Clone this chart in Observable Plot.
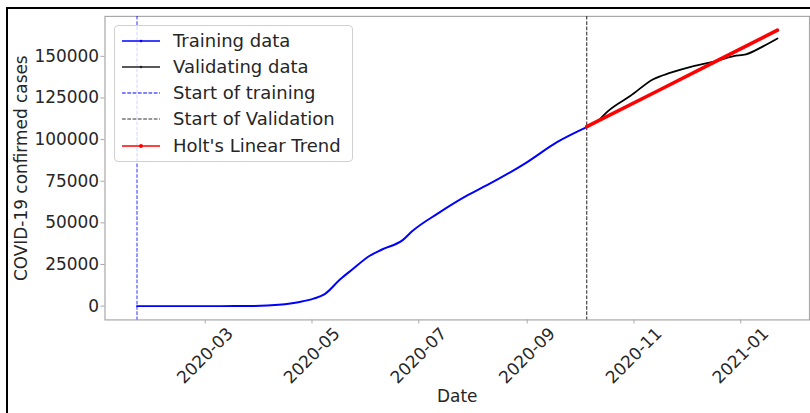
<!DOCTYPE html>
<html>
<head>
<meta charset="utf-8">
<script src="https://cdn.jsdelivr.net/npm/d3@7"></script>
<script src="https://cdn.jsdelivr.net/npm/@observablehq/plot@0.6"></script>
<style>
  html, body { margin: 0; padding: 0; background: #fff; overflow: hidden; }
  body { width: 810px; height: 413px; position: relative; font-family: "DejaVu Sans", sans-serif; }
  #outer { position: absolute; left: 6px; top: 7px; width: 900px; height: 500px; border-left: 2px solid #000; border-top: 2px solid #000; box-sizing: border-box; }
  #chart { position: absolute; left: 0; top: 0; width: 810px; height: 413px; overflow: hidden; }
  #legend { position: absolute; left: 114px; top: 25px; width: 239px; height: 137px; box-sizing: border-box;
            background: rgba(255,255,255,0.8); border: 1px solid #d0d0d0; border-radius: 4px; }
  .row { position: absolute; left: 0; height: 26px; width: 100%; }
  .row svg { position: absolute; left: 6px; top: 0; }
  .row span { position: absolute; left: 58px; top: 1px; font-size: 18px; line-height: 24px; color: #262626; white-space: nowrap; }
</style>
</head>
<body>
<div id="outer"></div>
<div id="chart"></div>
<div id="legend"></div>
<script>
// ---- data ----
const trainDates = ["2020-01-22","2020-02-15","2020-03-10","2020-03-29","2020-04-12","2020-04-24","2020-05-02","2020-05-08","2020-05-17","2020-05-24","2020-06-03","2020-06-10","2020-06-22","2020-06-27","2020-07-12","2020-07-29","2020-08-09","2020-09-01","2020-09-18","2020-10-05"];
const trainValues = [0, 0, 0, 100, 800, 2500, 4500, 7000, 16000, 22000, 30250, 34000, 39800, 44750, 55700, 66650, 72600, 86500, 98450, 107500];

const validDates = ["2020-10-05","2020-10-12","2020-10-17","2020-10-30","2020-11-12","2020-11-22","2020-12-05","2020-12-18","2020-12-28","2021-01-04","2021-01-14","2021-01-22"];
const validValues = [107500, 111800, 117000, 126300, 136300, 140200, 144200, 147200, 150200, 151200, 156150, 160750];

const holtDates = ["2020-10-05","2020-11-15","2020-12-20","2021-01-22"];
const holtValues = [107800, 129500, 148200, 165700];

const startTraining = "2020-01-22";
const startValidation = "2020-10-05";

const xTickDates = ["2020-03-01","2020-05-01","2020-07-01","2020-09-01","2020-11-01","2021-01-01"];
const yTicks = [0, 25000, 50000, 75000, 100000, 125000, 150000];

const legendLabels = ["Training data","Validating data","Start of training","Start of Validation","Holt's Linear Trend"];

// ---- build tables ----
const toRows = (ds, vs) => ds.map((d, i) => ({date: new Date(d), value: vs[i]}));
const train = toRows(trainDates, trainValues);
const valid = toRows(validDates, validValues);
const holt = toRows(holtDates, holtValues);

const allDates = [...train, ...valid, ...holt].map(d => +d.date);
const allVals = [...train, ...valid, ...holt].map(d => d.value);
const [dMin, dMax] = d3.extent(allDates);
const [vMin, vMax] = d3.extent(allVals);
const dPad = (dMax - dMin) * 0.05, vPad = (vMax - vMin) * 0.05;

const textColor = "#262626";
const spine = "#a8a8a8";
const fs = 17;

const plot = Plot.plot({
  width: 814,
  height: 413,
  marginLeft: 105,
  marginRight: 1,
  marginTop: 16,
  marginBottom: 92,
  style: {fontFamily: "DejaVu Sans, sans-serif", color: textColor, background: "transparent"},
  x: {type: "utc", domain: [new Date(dMin - dPad), new Date(dMax + dPad)]},
  y: {domain: [vMin - vPad, vMax + vPad]},
  marks: [
    Plot.frame({stroke: spine, strokeWidth: 1.2}),
    Plot.ruleX([new Date(startTraining)], {stroke: "#0000ff", strokeOpacity: 0.75, strokeWidth: 1.1, strokeDasharray: "3.7,1.6"}),
    Plot.ruleX([new Date(startValidation)], {stroke: "#333", strokeWidth: 1.1, strokeDasharray: "3.7,1.6"}),
    Plot.line(train, {x: "date", y: "value", stroke: "#0000ff", strokeWidth: 2, curve: "monotone-x"}),
    Plot.line(valid, {x: "date", y: "value", stroke: "#000", strokeWidth: 1.8, curve: "monotone-x"}),
    Plot.line(holt, {x: "date", y: "value", stroke: "#ff0000", strokeWidth: 3.6}),
    Plot.axisY({ticks: yTicks, tickFormat: d3.format("d"), tickSize: 4, tickPadding: 2, fontSize: fs, stroke: spine, label: null, fill: textColor}),
    Plot.axisX({ticks: xTickDates.map(d => new Date(d)), tickSize: 4, text: null, stroke: spine, label: null}),
    Plot.text(xTickDates.map(d => new Date(d)), {x: d => d, text: d => d3.utcFormat("%Y-%m")(d), frameAnchor: "bottom", dy: 36, rotate: -45, fontSize: fs, fill: textColor, textAnchor: "middle", lineAnchor: "middle"}),
    Plot.text(["Date"], {frameAnchor: "bottom", dy: 77, fontSize: fs, fill: textColor, textAnchor: "middle", lineAnchor: "middle"}),
    Plot.text(["COVID-19 confirmed cases"], {frameAnchor: "left", dx: -84, rotate: -90, fontSize: fs, fill: textColor, textAnchor: "middle", lineAnchor: "middle"})
  ]
});
document.getElementById("chart").appendChild(plot);

// ---- legend ----
const legendStyles = [
  {stroke: "#0000ff", dash: null, width: 1.3, dot: 1.3, dotColor: "#0000ff"},
  {stroke: "#222", dash: null, width: 1.3, dot: 1.3, dotColor: "#222"},
  {stroke: "#0000ff", dash: "3.7,1.6", width: 1.1, dot: 0},
  {stroke: "#333", dash: "3.7,1.6", width: 1.1, dot: 0},
  {stroke: "#ff0000", dash: null, width: 1.3, dot: 2, dotColor: "#ff0000"}
];
const legend = document.getElementById("legend");
const rowTops = [2, 28, 54, 80, 107];
legendLabels.forEach((lab, i) => {
  const s = legendStyles[i];
  const row = document.createElement("div");
  row.className = "row";
  row.style.top = rowTops[i] + "px";
  const ns = "http://www.w3.org/2000/svg";
  const svg = document.createElementNS(ns, "svg");
  svg.setAttribute("width", 40); svg.setAttribute("height", 26);
  const ln = document.createElementNS(ns, "line");
  ln.setAttribute("x1", 1); ln.setAttribute("x2", 39); ln.setAttribute("y1", 13); ln.setAttribute("y2", 13);
  ln.setAttribute("stroke", s.stroke); ln.setAttribute("stroke-width", s.width);
  if (s.dash) ln.setAttribute("stroke-dasharray", s.dash);
  svg.appendChild(ln);
  if (s.dot) {
    const c = document.createElementNS(ns, "circle");
    c.setAttribute("cx", 20); c.setAttribute("cy", 13); c.setAttribute("r", s.dot); c.setAttribute("fill", s.dotColor);
    svg.appendChild(c);
  }
  row.appendChild(svg);
  const sp = document.createElement("span");
  sp.textContent = lab;
  row.appendChild(sp);
  legend.appendChild(row);
});
</script>
</body>
</html>
